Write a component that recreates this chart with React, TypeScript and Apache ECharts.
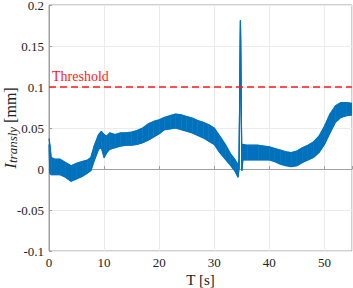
import React, { useEffect, useRef } from "react";
import * as echarts from "echarts";

const times = [0, 0.15, 0.4, 1, 2, 3, 4, 5, 6, 7, 7.6, 8.2, 9, 9.5, 10, 10.5, 11, 12, 13, 14, 15, 16, 17, 18, 19, 20, 21, 22, 23, 24, 25, 26, 27, 28, 29, 30, 31, 32, 33, 33.8, 34.3, 34.5, 34.75, 35.0, 35.2, 36, 38, 40, 41, 42, 43, 44, 45, 46, 47, 48, 49, 50, 51, 52, 53, 54, 55];
const upper = [0.037, 0.03, 0.014, 0.012, 0.012, 0.008, 0.004, 0.007, 0.009, 0.011, 0.014, 0.028, 0.042, 0.046, 0.042, 0.04, 0.044, 0.042, 0.044, 0.044, 0.045, 0.047, 0.05, 0.055, 0.058, 0.06, 0.063, 0.065, 0.067, 0.066, 0.064, 0.062, 0.059, 0.057, 0.054, 0.05, 0.04, 0.03, 0.018, 0.011, 0.005, 0.01, 0.181, 0.01, 0.03, 0.029, 0.029, 0.027, 0.025, 0.023, 0.021, 0.02, 0.022, 0.026, 0.029, 0.033, 0.04, 0.052, 0.067, 0.077, 0.081, 0.081, 0.08];
const lower = [0.03, -0.005, -0.007, -0.007, -0.007, -0.01, -0.015, -0.012, -0.009, -0.005, -0.002, 0.01, 0.024, 0.026, 0.014, 0.02, 0.024, 0.026, 0.028, 0.029, 0.029, 0.03, 0.032, 0.035, 0.039, 0.043, 0.048, 0.049, 0.05, 0.048, 0.046, 0.044, 0.041, 0.038, 0.034, 0.03, 0.02, 0.012, 0.004, -0.003, -0.01, 0.0, 0.181, -0.002, 0.011, 0.011, 0.011, 0.011, 0.009, 0.006, 0.004, 0.003, 0.004, 0.008, 0.011, 0.014, 0.02, 0.03, 0.044, 0.057, 0.063, 0.065, 0.066];
const threshold = 0.1;
const thresholdLabel = "Threshold";
const xTicks = { min: 0, max: 55, interval: 10 };
const yTicks = { min: -0.1, max: 0.2, interval: 0.05 };

const BLUE = "#0072BD";
const FONT = "'Liberation Serif', 'DejaVu Serif', serif";

export default function App() {
  const ref = useRef<HTMLDivElement>(null);
  useEffect(() => {
    if (!ref.current) return;
    const chart = echarts.init(ref.current, undefined, { renderer: "svg" });
    const segData = times.slice(0, -1).map((t, i) => [
      t, lower[i], upper[i], times[i + 1], lower[i + 1], upper[i + 1],
    ]);
    const upperData = times.map((t, i) => [t, upper[i]]);
    const lowerData = times.map((t, i) => [t, lower[i]]);
    chart.setOption({
      animation: false,
      backgroundColor: "#ffffff",
      textStyle: { fontFamily: FONT },
      grid: {
        left: 49,
        right: 1,
        top: 5,
        bottom: 37,
        show: true,
        borderColor: "#a0a0a0",
        borderWidth: 1,
        outerBoundsMode: "none",
      },
      xAxis: {
        type: "value",
        min: xTicks.min,
        max: xTicks.max,
        interval: xTicks.interval,
        name: "T [s]",
        nameLocation: "middle",
        nameGap: 21,
        nameMoveOverlap: false,
        nameTextStyle: { fontFamily: FONT, fontSize: 15, color: "#222" },
        axisLine: { show: true, lineStyle: { color: "#a0a0a0", width: 1 } },
        axisTick: { show: true, inside: true, length: 3, lineStyle: { color: "#a0a0a0" } },
        axisLabel: {
          fontFamily: FONT,
          fontSize: 13,
          color: "#222",
          margin: 5,
          formatter: (v: number) => (v === 55 ? "" : String(v)),
        },
        splitLine: { show: true, lineStyle: { color: "#ebebeb", width: 1 } },
      },
      yAxis: {
        type: "value",
        min: yTicks.min,
        max: yTicks.max,
        interval: yTicks.interval,
        name: "{i|I}{s|transly}{n| [mm]}",
        nameLocation: "middle",
        nameGap: 30,
        nameRotate: 90,
        nameMoveOverlap: false,
        nameTextStyle: {
          fontFamily: FONT,
          fontSize: 16,
          color: "#222",
          rich: {
            i: { fontFamily: FONT, fontStyle: "italic", fontSize: 17, color: "#222", lineHeight: 17, verticalAlign: "middle" },
            s: { fontFamily: FONT, fontStyle: "italic", fontSize: 13, color: "#222", lineHeight: 9, verticalAlign: "bottom" },
            n: { fontFamily: FONT, fontSize: 16, color: "#222", lineHeight: 17, verticalAlign: "middle" },
          },
        },
        axisLine: { show: true, lineStyle: { color: "#a0a0a0", width: 1 } },
        axisTick: { show: true, inside: true, length: 3, lineStyle: { color: "#a0a0a0" } },
        axisLabel: {
          fontFamily: FONT,
          fontSize: 13,
          color: "#222",
          margin: 5,
          formatter: (v: number) => String(+v.toFixed(2)),
        },
        splitLine: { show: true, lineStyle: { color: "#ebebeb", width: 1 } },
      },
      series: [
        {
          type: "custom",
          name: "band",
          data: segData,
          encode: { x: [0, 3], y: [1, 2, 4, 5] },
          clip: true,
          z: 3,
          renderItem: (params: any, api: any) => {
            const p1 = api.coord([api.value(0), api.value(1)]);
            const p2 = api.coord([api.value(0), api.value(2)]);
            const p3 = api.coord([api.value(3), api.value(5)]);
            const p4 = api.coord([api.value(3), api.value(4)]);
            return {
              type: "polygon",
              shape: { points: [p1, p2, p3, p4] },
              style: { fill: BLUE, stroke: BLUE, lineWidth: 0.6 },
            };
          },
        },
        {
          type: "line",
          name: "upper",
          data: upperData,
          showSymbol: false,
          symbol: "none",
          lineStyle: { color: BLUE, width: 1.2 },
          z: 4,
          markLine: {
            silent: true,
            symbol: "none",
            lineStyle: { color: "#ff1a1a", type: [7, 4], width: 1.6 },
            label: {
              show: true,
              position: "insideStartTop",
              formatter: thresholdLabel,
              color: "#ff1a1a",
              fontFamily: FONT,
              fontSize: 14,
              distance: [3, 4],
            },
            data: [{ yAxis: threshold }],
          },
        },
        {
          type: "line",
          name: "lower",
          data: lowerData,
          showSymbol: false,
          symbol: "none",
          lineStyle: { color: BLUE, width: 1.2 },
          z: 4,
        },
      ],
    });
    return () => chart.dispose();
  }, []);
  return (
    <div
      ref={ref}
      style={{ position: "fixed", left: 0, top: 0, width: 353, height: 288 }}
    />
  );
}
